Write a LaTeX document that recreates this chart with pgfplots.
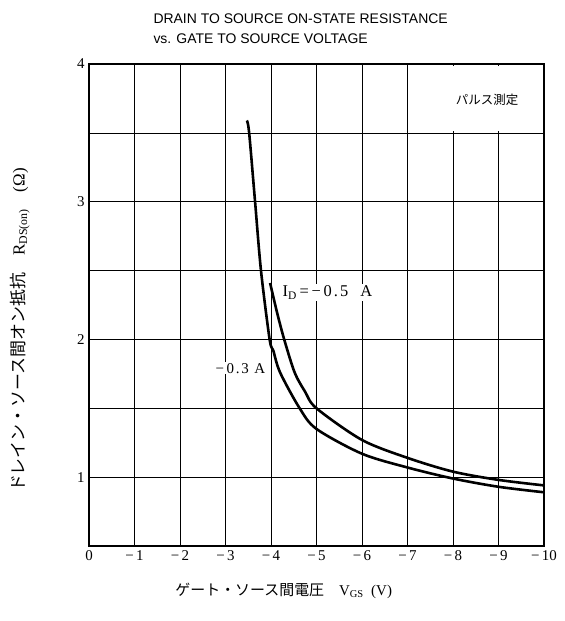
\documentclass[border=0pt]{standalone}
\usepackage{pgfplots}
\pgfplotsset{compat=1.18}
\usepackage{fontspec}
\setmainfont{Liberation Serif}
\newfontfamily\titlefont{Liberation Sans}
\newfontfamily\spaced[LetterSpace=12]{Liberation Serif}
\newfontfamily\jp{Noto Sans CJK JP}
\begin{document}
\begin{tikzpicture}
\begin{axis}[
  at={(0,0)}, anchor=south west,
  scale only axis,
  width=455bp, height=482bp,
  xmin=-10, xmax=0, ymin=0.5, ymax=4,
  x dir=reverse,
  xtick={-10,-9,...,0},
  xticklabels={−\,10,−\,9,−\,8,−\,7,−\,6,−\,5,−\,4,−\,3,−\,2,−\,1,0},
  ytick={1,2,3,4},
  yticklabels={1,2,3,4},
  minor ytick={0.5,1.5,2.5,3.5},
  grid=both,
  major grid style={black, line width=0.7bp},
  minor grid style={black, line width=0.7bp},
  axis line style={black, line width=1.6bp},
  major tick length=0pt, minor tick length=0pt,
  tick label style={font=\fontsize{15}{17}\selectfont},
  xticklabel style={yshift=-1bp},
  yticklabel style={xshift=-1bp},
  clip=false,
]
\fill[white] (axis cs:-7.04,3.512) rectangle (axis cs:-9.96,3.985);
\node[font=\jp\fontsize{12.5}{14}\selectfont] at (axis cs:-8.75,3.74) {パルス測定};

\addplot[black, line width=2.6bp, smooth, tension=0.5] coordinates {
(-3.47,3.59) (-3.52,3.50) (-3.65,3.00) (-3.78,2.50) (-3.97,2.00) (-4.05,1.92) (-4.20,1.76) (-4.63,1.50) (-5.00,1.35) (-6.00,1.17) (-7.00,1.07) (-8.00,0.99) (-9.00,0.93) (-10.00,0.89)
};
\addplot[black, line width=2.6bp, smooth, tension=0.5] coordinates {
(-3.98,2.41) (-4.13,2.20) (-4.29,2.00) (-4.52,1.76) (-4.75,1.62) (-5.00,1.50) (-6.00,1.27) (-7.00,1.14) (-8.00,1.04) (-9.00,0.98) (-10.00,0.94)
};

\node[anchor=west, fill=white, inner sep=1.5bp, font=\spaced\fontsize{16.5}{18}\selectfont] at (axis cs:-4.22,2.34) {I\textsubscript{D}\,=\,−\,0.5\ \ A};
\node[anchor=east, fill=white, inner sep=1bp, font=\spaced\fontsize{15}{17}\selectfont] at (axis cs:-3.9,1.79) {−\,0.3\ A};

\node[anchor=base west, font=\titlefont\fontsize{14}{16}\selectfont] at ([xshift=61bp, yshift=40bp]rel axis cs:0,1) {DRAIN TO SOURCE ON-STATE RESISTANCE};
\node[anchor=base west, font=\titlefont\fontsize{14}{16}\selectfont] at ([xshift=61bp, yshift=20bp]rel axis cs:0,1) {vs. GATE TO SOURCE VOLTAGE};

\node[rotate=90, font=\fontsize{17}{19}\selectfont] at ([xshift=-69bp]rel axis cs:0,0.448) {{\jp ドレイン・ソース間オン抵抗}\quad R\textsubscript{DS(on)}\quad (Ω)};
\node[font=\fontsize{15}{17}\selectfont] at ([yshift=-45bp]rel axis cs:0.428,0) {{\jp ゲート・ソース間電圧}\quad V\textsubscript{GS}\ \ (V)};
\end{axis}
\path (-89bp,-75bp) rectangle (476bp,546bp);
\end{tikzpicture}
\end{document}
